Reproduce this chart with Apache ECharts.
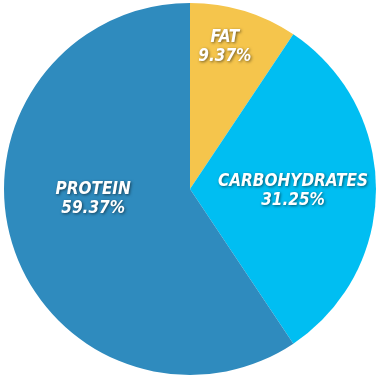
<!DOCTYPE html>
<html><head><meta charset="utf-8">
<script src="https://cdn.jsdelivr.net/npm/echarts@6/dist/echarts.min.js"></script>
<style>html,body{margin:0;padding:0;background:#fff}#c{width:380px;height:380px}</style>
</head><body><div id="c"></div>
<script>
const categories = ['FAT', 'CARBOHYDRATES', 'PROTEIN'];
const values = [9.37, 31.25, 59.37];
const colors = ['#F5C54C', '#00BEF2', '#2F8BBE'];
const labelOffsets = [[7, -50], [7, 2], [-5, -18]];

const chart = echarts.init(document.getElementById('c'));
chart.setOption({
  animation: false,
  series: [{
    type: 'pie',
    center: [190, 189],
    radius: 186,
    startAngle: 90,
    clockwise: true,
    label: {
      position: 'inside',
      color: '#fff',
      fontFamily: '"DejaVu Sans Condensed", sans-serif',
      fontWeight: 'bold',
      fontStyle: 'italic',
      fontSize: 17,
      lineHeight: 19,
      align: 'center',
      textShadowColor: 'rgba(0,0,0,0.55)',
      textShadowBlur: 3,
      textShadowOffsetX: 1,
      textShadowOffsetY: 1,
      formatter: p => p.name + '\n' + p.value.toFixed(2) + '%'
    },
    labelLine: { show: false },
    emphasis: { disabled: true },
    data: categories.map((n, i) => ({
      name: n,
      value: values[i],
      itemStyle: { color: colors[i] },
      label: { offset: labelOffsets[i] }
    }))
  }]
});
</script></body></html>
